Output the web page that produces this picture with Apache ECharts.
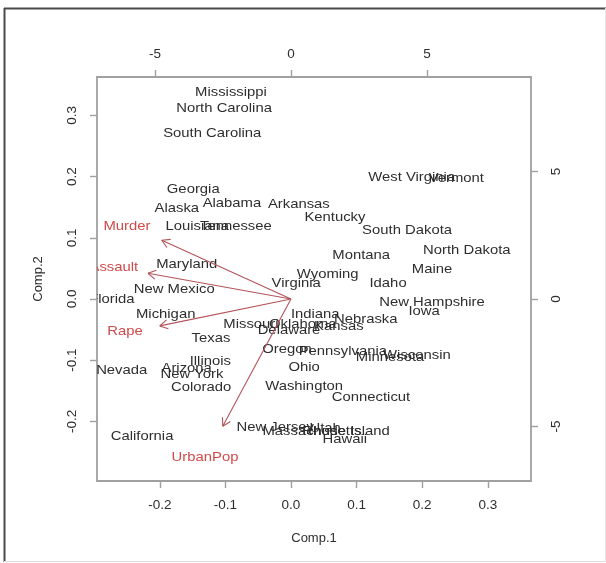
<!DOCTYPE html>
<html>
<head>
<meta charset="utf-8">
<script src="https://cdn.jsdelivr.net/npm/echarts@6/dist/echarts.min.js"></script>
<style>html,body{margin:0;padding:0;background:#fff;}#c{width:606px;height:563px;}</style>
</head>
<body>
<div id="c"></div>
<script>
const states = ["Mississippi","North Carolina","South Carolina","Georgia","Alaska","Alabama","Arkansas","Kentucky","Louisiana","Tennessee","West Virginia","Vermont","South Dakota","North Dakota","Montana","Maine","Wyoming","Virginia","Idaho","New Hampshire","Iowa","Indiana","Nebraska","Kansas","Missouri","Oklahoma","Delaware","Texas","Michigan","Florida","New Mexico","Maryland","Oregon","Pennsylvania","Minnesota","Wisconsin","Ohio","Illinois","Arizona","New York","Nevada","Colorado","Washington","Connecticut","New Jersey","Massachusetts","Rhode Island","Utah","Hawaii","California"];
const comp1 = [-0.0915,-0.102,-0.120,-0.149,-0.174,-0.090,0.012,0.067,-0.143,-0.084,0.184,0.252,0.177,0.268,0.107,0.215,0.056,0.008,0.148,0.215,0.203,0.037,0.114,0.073,-0.061,0.018,-0.003,-0.122,-0.191,-0.273,-0.178,-0.159,-0.006,0.079,0.151,0.192,0.020,-0.123,-0.159,-0.151,-0.258,-0.137,0.020,0.122,-0.024,0.032,0.084,0.052,0.082,-0.227];
const comp2 = [0.338,0.312,0.271,0.180,0.149,0.157,0.154,0.134,0.118,0.118,0.199,0.198,0.113,0.080,0.072,0.049,0.041,0.025,0.025,-0.005,-0.020,-0.025,-0.033,-0.044,-0.042,-0.041,-0.051,-0.064,-0.025,0.000,0.016,0.057,-0.082,-0.085,-0.096,-0.092,-0.111,-0.101,-0.113,-0.123,-0.116,-0.145,-0.142,-0.160,-0.209,-0.216,-0.216,-0.212,-0.229,-0.225];

const variables = ["Murder","Assault","Rape","UrbanPop"];
const varLabelX = [-0.250,-0.270,-0.253,-0.131];
const varLabelY = [0.118,0.051,-0.052,-0.258];
const arrowTipX = [-0.197,-0.218,-0.200,-0.104];
const arrowTipY = [0.096,0.042,-0.044,-0.208];

const bottomTicks = [-0.2,-0.1,0.0,0.1,0.2,0.3];
const leftTicks = [-0.2,-0.1,0.0,0.1,0.2,0.3];
const topTicks = [-5,0,5];
const rightTicks = [-5,0,5];

const FONT = '"Liberation Sans", Arial, sans-serif';
const TXT = '#2e2e2e';
const BOX = '#a0a0a0';
const RED_T = '#d04a4a';
const RED_A = '#b3545a';
const SX = 1.1;

const chart = echarts.init(document.getElementById('c'), null, {renderer:'canvas'});

function axisCommon(ticks, fmt, rot, margin) {
  return {
    axisLine: {show: true, onZero: false, lineStyle: {color: BOX, width: 1.8}},
    axisTick: {show: true, customValues: ticks, length: 7, lineStyle: {color: BOX, width: 1.4}},
    axisLabel: {show: true, customValues: ticks, formatter: fmt, rotate: rot, margin: margin,
      color: TXT, fontSize: 13.5, fontFamily: FONT},
    splitLine: {show: false}
  };
}
const f1 = v => (Math.round(v*10)/10).toFixed(1);
const f0 = v => String(Math.round(v));

function textItem(label, color) {
  return function (params, api) {
    const p = api.coord([api.value(0), api.value(1)]);
    return {type: 'text', x: p[0], y: p[1], scaleX: SX,
      style: {text: label[params.dataIndex], fill: color, fontSize: 13.5, fontFamily: FONT,
        align: 'center', verticalAlign: 'middle'}};
  };
}

const option = {
  animation: false,
  backgroundColor: '#fff',
  grid: {left: 97, top: 77, width: 434, height: 404, containLabel: false},
  xAxis: [
    Object.assign({type: 'value', position: 'bottom', min: -0.2957, max: 0.3659,
      name: 'Comp.1', nameLocation: 'middle', nameGap: 51,
      nameTextStyle: {color: TXT, fontSize: 13, fontFamily: FONT}}, axisCommon(bottomTicks, f1, 0, 17)),
    Object.assign({type: 'value', position: 'top', min: -7.13, max: 8.82}, axisCommon(topTicks, f0, 0, 16))
  ],
  yAxis: [
    Object.assign({type: 'value', position: 'left', min: -0.2974, max: 0.3627,
      name: 'Comp.2', nameLocation: 'middle', nameGap: 52,
      nameTextStyle: {color: TXT, fontSize: 13, fontFamily: FONT}}, axisCommon(leftTicks, f1, 90, 18)),
    Object.assign({type: 'value', position: 'right', min: -7.14, max: 8.71}, axisCommon(rightTicks, f0, 90, 18))
  ],
  graphic: [
    {type: 'line', shape: {x1: 4.5, y1: 8, x2: 4.5, y2: 562}, style: {stroke: '#4a4a4a', lineWidth: 2}},
    {type: 'line', shape: {x1: 4, y1: 8.5, x2: 606, y2: 8.5}, style: {stroke: '#4a4a4a', lineWidth: 2}},
    {type: 'line', shape: {x1: 4, y1: 561.5, x2: 606, y2: 561.5}, style: {stroke: '#dddddd', lineWidth: 1}},
    {type: 'line', shape: {x1: 605.5, y1: 8, x2: 605.5, y2: 562}, style: {stroke: '#e6e6e6', lineWidth: 1}}
  ],
  series: [
    {
      type: 'custom', xAxisIndex: 0, yAxisIndex: 0, clip: true,
      data: comp1.map((x, i) => [x, comp2[i]]),
      encode: {x: 0, y: 1},
      renderItem: textItem(states, TXT)
    },
    {
      type: 'custom', xAxisIndex: 0, yAxisIndex: 0, clip: true,
      data: arrowTipX.map((x, i) => [x, arrowTipY[i]]),
      encode: {x: 0, y: 1},
      renderItem: function (params, api) {
        const o = api.coord([0, 0]);
        const t = api.coord([api.value(0), api.value(1)]);
        const ang = Math.atan2(t[1] - o[1], t[0] - o[0]);
        const L = 9, a = Math.PI / 6;
        const h1 = [t[0] - L * Math.cos(ang - a), t[1] - L * Math.sin(ang - a)];
        const h2 = [t[0] - L * Math.cos(ang + a), t[1] - L * Math.sin(ang + a)];
        const st = {stroke: RED_A, lineWidth: 1.1};
        return {type: 'group', children: [
          {type: 'line', shape: {x1: o[0], y1: o[1], x2: t[0], y2: t[1]}, style: st},
          {type: 'line', shape: {x1: t[0], y1: t[1], x2: h1[0], y2: h1[1]}, style: st},
          {type: 'line', shape: {x1: t[0], y1: t[1], x2: h2[0], y2: h2[1]}, style: st}
        ]};
      }
    },
    {
      type: 'custom', xAxisIndex: 0, yAxisIndex: 0, clip: true,
      data: varLabelX.map((x, i) => [x, varLabelY[i]]),
      encode: {x: 0, y: 1},
      renderItem: textItem(variables, RED_T)
    }
  ]
};
chart.setOption(option);
</script>
</body>
</html>
